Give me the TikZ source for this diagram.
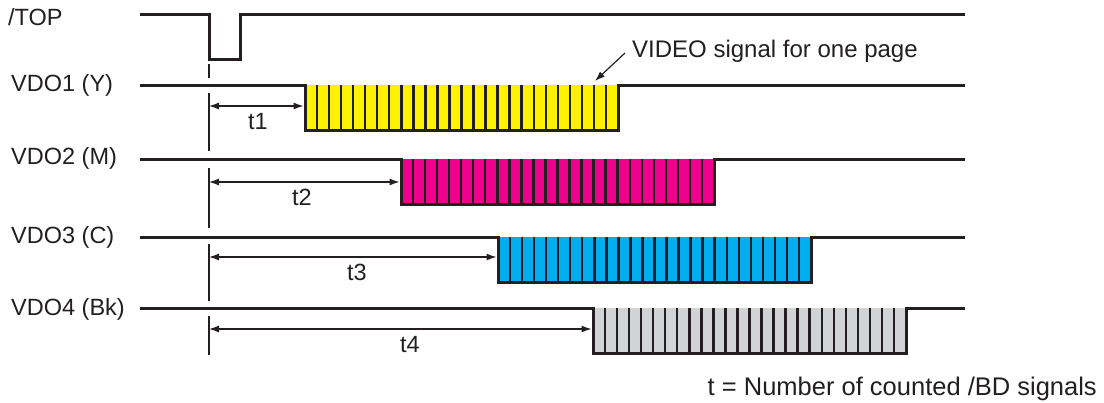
\documentclass[tikz,border=0pt]{standalone}
\usepackage{fontspec}
\setmainfont{Liberation Sans}
\usetikzlibrary{arrows.meta}
\definecolor{ink}{HTML}{231F20}
\definecolor{cY}{HTML}{FFF200}
\definecolor{cM}{HTML}{EC008C}
\definecolor{cC}{HTML}{00AEEF}
\definecolor{cK}{HTML}{D1D3D4}
\begin{document}
\begin{tikzpicture}[x=1pt,y=-1pt, font=\fontsize{23.5}{28}\selectfont,
 sig/.style={draw=ink, line width=3pt, line join=miter},
 stripe/.style={draw=ink, line width=2.4pt},
 marker/.style={draw=ink, line width=1.2pt},
 dim/.style={draw=ink, line width=1.2pt, {Latex[length=10pt,width=7pt]}-{Latex[length=10pt,width=7pt]}},
 pointer/.style={draw=ink, line width=1.2pt, -{Latex[length=10pt,width=7pt]}},
 lbl/.style={anchor=base west, inner sep=0pt, text=ink},
 tl/.style={anchor=base, inner sep=0pt, text=ink}]
\useasboundingbox (0,0) rectangle (1104,402);

% /TOP signal
\draw[sig] (140,14) -- (209,14) -- (209,59) -- (240,59) -- (240,14) -- (965,14);

% video channels
\foreach \yy/\xl/\col in {85/305/cY,159/401/cM,237/498/cC,308/593/cK}{
  \fill[\col] (\xl,\yy) rectangle ({\xl+313},{\yy+45});
  \foreach \k in {1,...,25}
    \draw[stripe] ({\xl+\k*313/26},\yy) -- ({\xl+\k*313/26},{\yy+45});
  \draw[sig] (140,\yy) -- (\xl,\yy) -- (\xl,{\yy+45}) -- ({\xl+313},{\yy+45}) -- ({\xl+313},\yy) -- (965,\yy);
}

% labels
\node[lbl] (ltop) at (8,25) {/TOP};
\node[lbl] (l1) at (11,91.5) {VDO1 (Y)};
\node[lbl] (l2) at (11,164) {VDO2 (M)};
\node[lbl] (l3) at (11,243) {VDO3 (C)};
\node[lbl] (l4) at (11,315) {VDO4 (Bk)};

% reference marker
\draw[marker] (209,64) -- (209,78) (209,93) -- (209,151) (209,168) -- (209,228)
  (209,244) -- (209,301) (209,316) -- (209,355);

% delay dimensions
\coordinate (m1) at (209,106); \coordinate (b1) at (303.5,106);
\coordinate (m2) at (209,182); \coordinate (b2) at (399.5,182);
\coordinate (m3) at (209,257); \coordinate (b3) at (496.5,257);
\coordinate (m4) at (209,329); \coordinate (b4) at (591.5,329);
\draw[dim] (m1) -- (b1);
\draw[dim] (m2) -- (b2);
\draw[dim] (m3) -- (b3);
\draw[dim] (m4) -- (b4);
\node[tl] (t1) at (258,129) {t1};
\node[tl] (t2) at (302,205) {t2};
\node[tl] (t3) at (357,280) {t3};
\node[tl] (t4) at (410,352) {t4};

% annotation
\node[lbl, font=\fontsize{24}{28}\selectfont] (vid) at (632,57) {VIDEO signal for one page};
\coordinate (pa) at (625,53);
\coordinate (pb) at (595,81);
\draw[pointer] (pa) -- (pb);

\node[anchor=base east, inner sep=0pt, text=ink, font=\fontsize{25.5}{30}\selectfont] (note) at (1097,395) {t = Number of counted /BD signals};
\end{tikzpicture}
\end{document}
